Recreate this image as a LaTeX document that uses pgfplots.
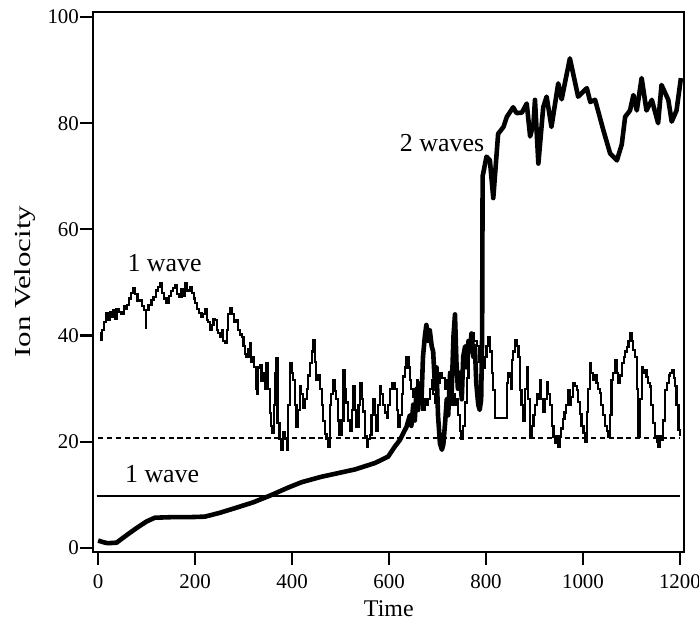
\documentclass[border=0pt]{standalone}
\usepackage{fontspec}
\setmainfont{Liberation Serif}
\usepackage{pgfplots}
\pgfplotsset{compat=1.18}
\begin{document}
\begin{tikzpicture}
\begin{axis}[
  name=ax,
  at={(0,0)}, anchor=south west,
  scale only axis,
  width=295.5bp, height=270bp,
  xmin=-10, xmax=1209, ymin=-0.7, ymax=101,
  xtick={0,200,...,1200}, ytick={0,20,...,100},
  xtick pos=bottom, ytick pos=left,
  tick align=outside,
  major tick length=6.5bp,
  every tick/.style={black, line width=1.1bp},
  axis line style={line width=1.1bp},
  tick label style={font=\fontsize{10.5}{12}\selectfont},
  /pgf/number format/assume math mode=true,
  /pgf/number format/1000 sep={},
  yticklabel style={inner sep=0.5bp},
  xticklabel style={yshift=-1.5bp},
]
% horizontal reference levels
\addplot[black, line width=0.9bp] coordinates {(-3,9.8) (1201,9.8)};
\addplot[black, line width=1bp, dash pattern=on 2.6bp off 1.8bp] coordinates {(0,20.8) (1200,20.8)};
% 1 wave (thin, noisy)
\addplot[black, line width=1.1bp, const plot] coordinates {
(3,40.4) (6,39.2) (8,41) (12,42.5) (17,44.2) (21,43) (24,44.5) (27,43.5) (31,44.8) (34,43.2) (38,45) (43,44.5) (48,44) (53,45.5) (56,45) (59,45.8) (63,47) (67,48) (72,48.9) (76,47.8) (81,46.5) (86,46.7) (90,45.5)
(95,44.8) (98,41.4) (99,44.8) (104,45.7) (110,46.7) (114,47.2) (119,48.5) (124,49.2) (127,49.8) (131,48) (136,47) (141,46.1) (146,47.5) (150,48.4) (154,49) (158,49.5) (163,47.8) (168,47.2) (172,48.8) (175,47.5)
(179,49.8) (184,48.5) (189,49.2) (193,48) (197,47) (200,46.1) (204,45) (208,44.3) (213,43.6) (217,44) (220,44.9) (224,43) (227,42.5) (230,41.1) (235,42) (238,43.2) (241,42.9) (245,41) (248,40.5) (251,39.8) (255,41)
(258,39) (261,38.6) (265,41) (268,44) (272,45.1) (276,44) (280,42.5) (284,42.9) (288,41) (292,40.2) (296,39.8) (300,38) (303,36.5) (306,36) (310,37.5) (313,38.6) (316,35) (319,36) (322,34.1) (325,30) (327,29.1)
(330,34) (334,34.5) (337,31.5) (340,33) (344,30) (347,34.8) (350,30) (354,25.4) (356,23) (358,21.6) (362,27) (365,32.9) (368,35.7) (370,23.5) (374,20.5) (378,18.5) (382,21.9) (386,20.5) (389,18.5) (392,27) (396,34.8) (399,33) (402,31.6)
(406,27) (409,22.8) (413,26) (416,30.5) (419,29) (423,26.4) (426,28) (430,30) (433,32.5) (437,34.8) (441,37) (444,39.2) (447,35) (450,31.6) (454,32.5) (457,30) (461,27) (464,23.9) (468,21.5) (471,20.5) (474,19.1) (478,27)
(481,29) (485,31.6) (488,29.5) (491,28) (495,24) (498,21.3) (502,24) (506,33.5) (509,30) (512,27.4) (516,24) (519,22) (523,26) (526,30.5) (530,26) (533,22.8) (537,27) (540,31) (544,28) (547,25.7) (551,21) (554,19.1)
(557,20.5) (560,21.3) (564,25) (567,28) (570,25) (574,22) (577,27) (581,30.5) (584,29) (588,26.9) (591,25.5) (595,24.5) (598,27) (602,30) (607,31) (612,30) (616,26) (619,22.8) (623,25) (626,29) (629,32.3) (633,34) (636,36)
(640,34) (643,31.6) (646,30) (650,28.5) (653,30) (657,31.6) (660,30) (664,28) (669,26) (673,28) (677,26.9) (681,28) (684,30) (688,31.6) (691,29) (694,27.4) (698,29) (701,31) (705,33) (710,32) (715,30) (719,31.6) (722,29)
(726,26.9) (730,29) (735,27) (739,28) (743,25) (746,22) (749,20.5) (752,23) (756,27.4) (760,32) (764,37) (767,39.8) (771,40.5) (776,39) (781,38) (785,35) (790,32) (794,34) (798,36) (801,38) (805,39.8) (808,37) (812,33)
(815,29.8) (818,24.5) (828,24.5) (838,24.5) (843,31) (846,33) (849,32.3) (851,30) (853,35.4) (856,37) (860,39.2) (863,38) (867,36) (870,29.8) (873,27) (877,24) (880,30) (884,34.1) (887,28) (891,21) (895,23) (898,25)
(901,26.9) (905,29) (908,28) (911,31.6) (914,28) (918,25.7) (921,28) (925,31.2) (928,29) (932,26.9) (936,23) (939,21) (942,19.7) (945,21) (948,19) (952,21) (955,22.5) (959,24.3) (962,25.5) (965,27) (969,29.8) (972,27)
(976,28.5) (980,31) (983,30.5) (987,29.8) (990,27.5) (994,25.3) (997,23) (1001,21.6) (1004,20) (1008,25.6) (1011,30) (1014,34.8) (1017,33) (1021,31.6) (1025,32.5) (1028,31) (1031,30) (1035,29.2) (1038,27) (1042,25.1)
(1045,23) (1049,22) (1052,21) (1055,25) (1059,31.6) (1062,33) (1066,35.4) (1070,33) (1073,31) (1077,32.5) (1080,34.8) (1084,36) (1087,37) (1090,37.9) (1094,39) (1097,40.4) (1101,39) (1104,37.3) (1108,36) (1111,30)
(1114,21) (1117,28) (1121,34.1) (1124,33) (1127,33.5) (1131,32.2) (1134,31) (1138,30.4) (1141,27) (1145,23.5) (1149,21) (1152,20) (1155,19.1) (1158,21) (1162,20.4) (1165,24) (1169,29.8) (1173,31) (1177,32.5) (1180,33)
(1183,33.5) (1187,32) (1190,30.5) (1193,27) (1197,22.2) (1200,21)
};
% 2 waves (thick)
\addplot[black, line width=2.3bp, line join=round] coordinates {
(0,1.4) (10,1.1) (20,0.9) (38,1.0) (60,2.5) (80,3.8) (100,5.0) (117,5.7) (150,5.8)
(185,5.8) (220,5.9) (250,6.6) (282,7.5) (320,8.6) (358,10.0) (390,11.3) (420,12.4)
(460,13.4) (495,14.1) (530,14.8) (571,16.0) (598,17.2) (612,19.1) (622,20.3) (636,22.8)
(643,25) (646,23) (650,27) (653,24) (657,30) (660,26) (664,31) (667,28) (670,36) (674,40)
(677,42) (681,39) (684,41) (688,38) (691,37) (695,30) (698,34) (701,25) (705,19.7) (709,18.5)
(712,19.5) (716,24) (719,28) (722,25) (726,33) (729,29) (733,40) (736,44) (739,35) (742,30)
(746,33) (750,28) (753,36) (757,38) (761,34) (764,39) (767,37) (770,40.4) (774,36) (777,38)
(780,31) (784,27) (787,26) (790,28) (792,40)
(793,70) (801,73.7) (808,73) (815,65.9) (825,78) (836,79.3)
(843,81.2) (856,83) (863,81.9) (874,82) (884,83.7) (891,77.5) (898,80) (901,84.4)
(908,72.4) (918,83) (925,85) (935,79.3) (949,87.5) (956,84.5) (973,92.2) (990,85)
(1008,86.6) (1015,84) (1025,84.4) (1042,78.7) (1056,74.3) (1070,73) (1080,76)
(1087,81.2) (1097,82.4) (1104,85.3) (1111,82.4) (1121,88.5) (1131,82.4) (1142,84.4)
(1155,80) (1162,87.2) (1176,84.4) (1183,80.3) (1193,82.4) (1202,88.5)
};
\node[anchor=base, font=\fontsize{13}{15}\selectfont] at (axis cs:137,52) {1 wave};
\node[anchor=base, font=\fontsize{13}{15}\selectfont] at (axis cs:132,12.3) {1 wave};
\node[anchor=base east, font=\fontsize{13}{15}\selectfont, inner sep=0pt] at (axis cs:797,74.6) {2 waves};
\end{axis}
\node[anchor=base, font=\fontsize{12}{14}\selectfont] at ([yshift=-32.6bp]ax.south) {Time};
\node[anchor=base, rotate=90, font=\fontsize{11.5}{14}\selectfont] at ([xshift=-31.3bp]ax.west) {\scalebox{1.35}[1]{Ion Velocity}};
\pgfresetboundingbox
\path (-46.65bp,-34.65bp) rectangle (302.85bp,275.85bp);
\end{tikzpicture}
\end{document}
